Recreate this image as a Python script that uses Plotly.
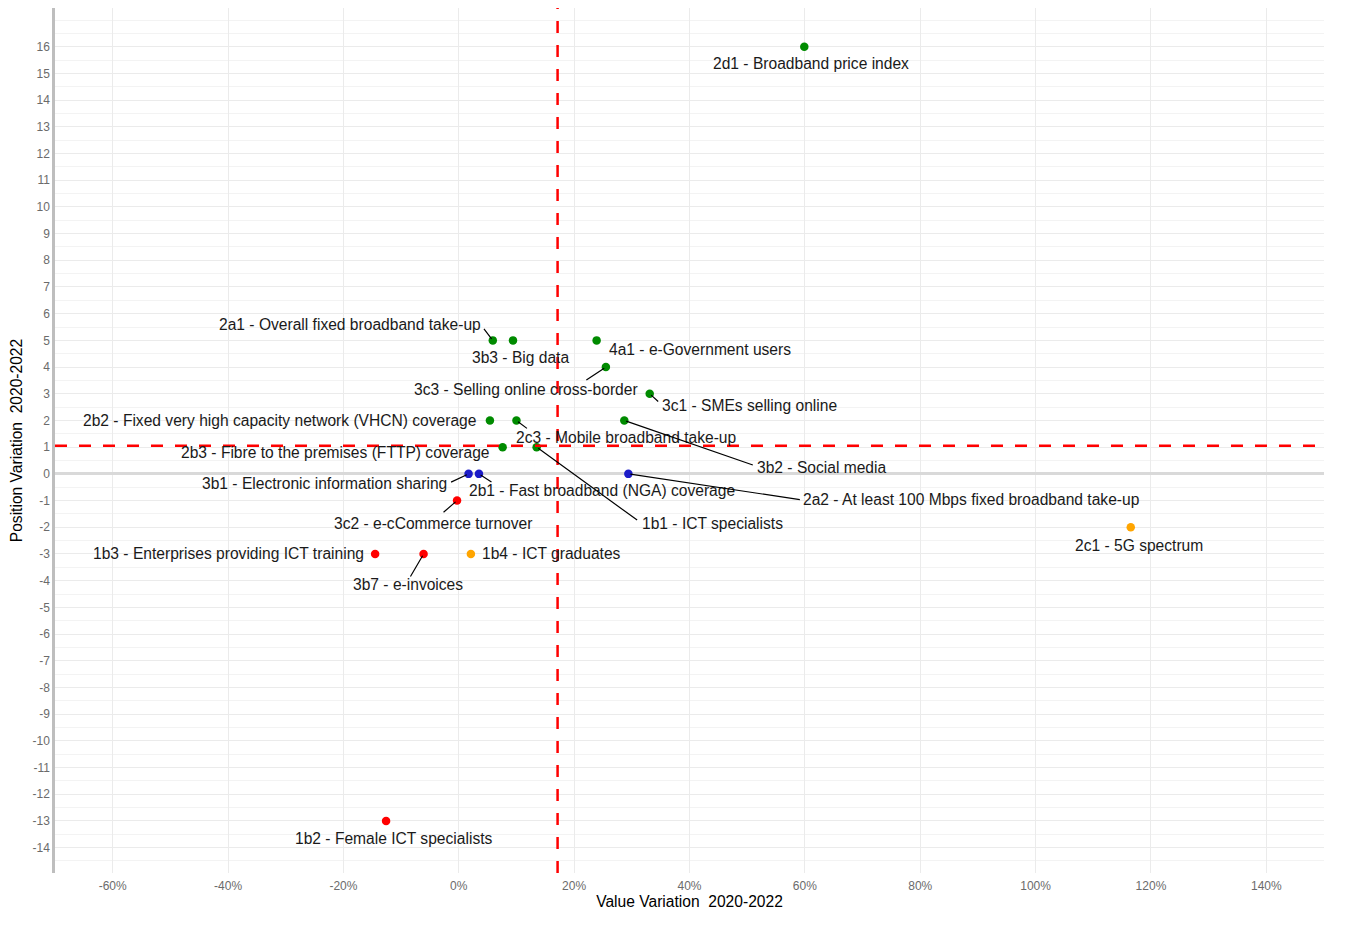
import plotly.graph_objects as go

# indicator codes, names and their 2020-2022 variations
codes = ["2d1", "2a1", "3b3", "4a1", "3c3", "3c1", "2b2", "2c3", "3b2", "2b3",
         "1b1", "3b1", "2b1", "2a2", "3c2", "1b3", "3b7", "1b4", "2c1", "1b2"]
names = ["Broadband price index", "Overall fixed broadband take-up", "Big data",
         "e-Government users", "Selling online cross-border", "SMEs selling online",
         "Fixed very high capacity network (VHCN) coverage", "Mobile broadband take-up",
         "Social media", "Fibre to the premises (FTTP) coverage", "ICT specialists",
         "Electronic information sharing", "Fast broadband (NGA) coverage",
         "At least 100 Mbps fixed broadband take-up", "e-cCommerce turnover",
         "Enterprises providing ICT training", "e-invoices", "ICT graduates",
         "5G spectrum", "Female ICT specialists"]
value_var = [0.599, 0.059, 0.094, 0.239, 0.255, 0.331, 0.054, 0.100, 0.287, 0.076,
             0.135, 0.017, 0.035, 0.294, -0.003, -0.145, -0.061, 0.021, 1.165, -0.126]
position_var = [16, 5, 5, 5, 4, 3, 2, 2, 2, 1,
                1, 0, 0, 0, -1, -3, -3, -3, -2, -13]
groups = ["up", "up", "up", "up", "up", "up", "up", "up", "up", "up",
          "up", "same", "same", "same", "down", "down", "down", "value_up", "value_up", "down"]

x_ticks = [-0.6, -0.4, -0.2, 0, 0.2, 0.4, 0.6, 0.8, 1.0, 1.2, 1.4]
x_tick_text = ["-60%", "-40%", "-20%", "0%", "20%", "40%", "60%", "80%", "100%", "120%", "140%"]
y_ticks = list(range(-14, 17))
y_tick_text = [str(v) for v in y_ticks]

group_colors = {"up": "#008b00", "same": "#1c1cc8", "down": "#ff0000", "value_up": "#ffa500"}

# label placement: pixel offset of the label centre from its point
label_offsets = {
    "2d1": (7, 17), "2a1": (-143, -16), "3b3": (8, 17), "4a1": (103, 9),
    "3c3": (-80, 22), "3c1": (100, 12), "2b2": (-210, 0), "2c3": (110, 17),
    "3b2": (197, 47), "2b3": (-167, 5), "1b1": (176, 76), "3b1": (-144, 10),
    "2b1": (123, 17), "2a2": (343, 26), "3c2": (-24, 23), "1b3": (-147, 0),
    "3b7": (-16, 31), "1b4": (81, 0), "2c1": (8, 18), "1b2": (8, 18),
}
# repel segments: pixel offset of the segment end (at the label) from its point
segment_offsets = {
    "2a1": (-10, -13), "3c3": (-21, 14), "3c1": (10, 9), "2c3": (12, 9),
    "3b2": (130, 45), "1b1": (102, 74), "3b1": (-19, 9), "2b1": (14, 9),
    "2a2": (173, 26), "3c2": (-15, 13), "3b7": (-14, 24),
}

mean_x = sum(value_var) / len(value_var)
mean_y = sum(position_var) / len(position_var)

fig = go.Figure()
fig.add_trace(go.Scatter(
    x=value_var, y=position_var, mode="markers",
    marker=dict(size=8.5, color=[group_colors[g] for g in groups]),
    text=[f"{c} - {n}" for c, n in zip(codes, names)],
    hoverinfo="text", showlegend=False,
))

label_font = dict(family="Liberation Sans, Arial, sans-serif", size=15.6, color="#1a1a1a")
for c, n, xv, yv in zip(codes, names, value_var, position_var):
    dx, dy = label_offsets[c]
    fig.add_annotation(x=xv, y=yv, text=f"{c} - {n}", showarrow=False,
                       xshift=dx, yshift=-dy, font=label_font)
    if c in segment_offsets:
        sx, sy = segment_offsets[c]
        fig.add_annotation(x=xv, y=yv, text="", showarrow=True, ax=sx, ay=sy,
                           arrowhead=0, arrowwidth=1.2, arrowcolor="black", standoff=2)

fig.add_shape(type="line", xref="x", yref="paper", x0=mean_x, x1=mean_x, y0=0, y1=1,
              line=dict(color="#ff0000", width=2.5, dash="12px,12px"))
fig.add_shape(type="line", xref="paper", yref="y", x0=0, x1=1, y0=mean_y, y1=mean_y,
              line=dict(color="#ff0000", width=2.5, dash="12px,12px"))

tick_font = dict(family="Liberation Sans, Arial, sans-serif", size=12, color="#6b6b6b")
title_font = dict(family="Liberation Sans, Arial, sans-serif", size=15.6, color="black")

# the page body adds an 8px margin, so the figure is a bit smaller than the window
fig.update_layout(
    width=1337, height=919,
    margin=dict(l=47, r=21, t=0, b=54),
    paper_bgcolor="white", plot_bgcolor="white",
    xaxis=dict(range=[-0.70, 1.50], tickvals=x_ticks, ticktext=x_tick_text,
               showgrid=True, gridcolor="#ebebeb", gridwidth=1, zeroline=False,
               showline=False, ticks="", tickfont=tick_font, ticklabelstandoff=4,
               title=dict(text="Value Variation  2020-2022", font=title_font, standoff=3)),
    yaxis=dict(range=[-14.95, 17.45], tickvals=y_ticks, ticktext=y_tick_text,
               showgrid=True, gridcolor="#ebebeb", gridwidth=1,
               minor=dict(dtick=0.5, tick0=0, showgrid=True, gridcolor="#f3f3f3", gridwidth=1),
               zeroline=True, zerolinecolor="#d9d9d9", zerolinewidth=2.5,
               showline=True, linecolor="#bebebe", linewidth=2.5, ticks="",
               tickfont=tick_font,
               title=dict(text="Position Variation  2020-2022", font=title_font, standoff=8)),
)

fig.write_html("out.html")
